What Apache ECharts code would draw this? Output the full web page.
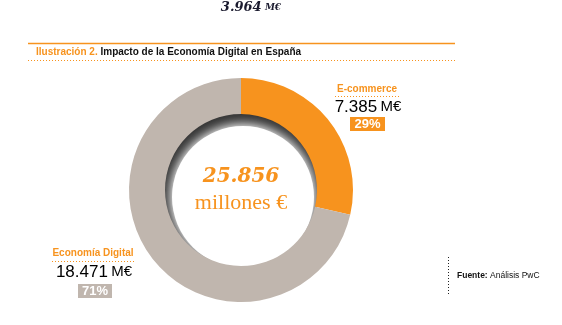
<!DOCTYPE html>
<html><head><meta charset="utf-8">
<script src="https://cdn.jsdelivr.net/npm/echarts@6/dist/echarts.min.js"></script>
<style>html,body{margin:0;padding:0;background:#fff}#c{width:562px;height:325px}</style>
</head><body><div id="c"></div>
<script>
const categories = ['E-commerce', 'Economía Digital'];
const values = [7385, 18471];
const sliceColors = ['#F7931E', '#C0B6AE'];
const totalLabel = '25.856';
const totalUnit = 'millones €';
const headerValue = '3.964';
const titlePrefix = 'Ilustración 2.';
const titleText = ' Impacto de la Economía Digital en España';
const sourceBold = 'Fuente:';
const sourceText = ' Análisis PwC';

const total = values.reduce((a, b) => a + b, 0);
const fmt = v => v.toLocaleString('de-DE');
const pct = v => Math.round(v / total * 100) + '%';

const ORANGE = '#F7931E';
const cx = 241, cy = 190;
const chart = echarts.init(document.getElementById('c'), null, {renderer: 'canvas'});

chart.setOption({
  animation: false,
  series: [{
    type: 'pie',
    center: [cx, cy],
    radius: [76, 112],
    startAngle: 90,
    clockwise: true,
    silent: true,
    label: {show: false},
    labelLine: {show: false},
    itemStyle: {borderWidth: 0},
    z: 5,
    data: categories.map((c, i) => ({name: c, value: values[i], itemStyle: {color: sliceColors[i]}}))
  }],
  graphic: [
    // inner shadow of the hole
    {type: 'circle', z: 1, shape: {cx: cx, cy: cy, r: 78}, style: {fill: '#333'}},
    {type: 'circle', z: 2, shape: {cx: cx + 2, cy: cy + 7, r: 71}, style: {fill: '#fff', shadowBlur: 14, shadowColor: '#fff'}},
    {type: 'circle', z: 3, shape: {cx: cx + 2, cy: cy + 7, r: 68}, style: {fill: '#fff', shadowBlur: 12, shadowColor: '#fff'}},
    // header
    {type: 'text', z: 10, style: {x: 251, y: 8, text: '{a|' + headerValue + '} {b|M€}', textAlign: 'center', textVerticalAlign: 'middle',
      rich: {a: {font: 'italic bold 13px "DejaVu Serif", serif', fill: '#1a1a2e'}, b: {font: 'italic bold 9px "DejaVu Serif", serif', fill: '#1a1a2e'}}}},
    // title rule
    {type: 'line', z: 10, shape: {x1: 28, y1: 43.5, x2: 455, y2: 43.5}, style: {stroke: ORANGE, lineWidth: 1.5}},
    {type: 'text', z: 10, style: {x: 36, y: 52, textVerticalAlign: 'middle', text: '{a|' + titlePrefix + '}{b|' + titleText + '}',
      rich: {a: {font: 'bold 10px "Liberation Sans", Arial', fill: ORANGE}, b: {font: 'bold 10px "Liberation Sans", Arial', fill: '#111'}}}},
    {type: 'line', z: 10, shape: {x1: 28, y1: 60.5, x2: 455, y2: 60.5}, style: {stroke: ORANGE, lineWidth: 1, lineDash: [1, 2]}},
    // center text
    {type: 'text', z: 10, style: {x: cx, y: 177, text: totalLabel, textAlign: 'center', textVerticalAlign: 'middle',
      font: 'italic bold 20px "DejaVu Serif", serif', fill: ORANGE}},
    {type: 'text', z: 10, style: {x: cx, y: 203, text: totalUnit, textAlign: 'center', textVerticalAlign: 'middle',
      font: '22px "Liberation Serif", serif', fill: ORANGE}},
    // E-commerce label
    {type: 'text', z: 10, style: {x: 367, y: 89, text: categories[0], textAlign: 'center', textVerticalAlign: 'middle',
      font: 'bold 10px "Liberation Sans", Arial', fill: ORANGE}},
    {type: 'line', z: 10, shape: {x1: 335, y1: 96.5, x2: 401, y2: 96.5}, style: {stroke: ORANGE, lineWidth: 1, lineDash: [1, 2]}},
    {type: 'text', z: 10, style: {x: 368, y: 107, text: '{a|' + fmt(values[0]) + '} {b|M€}', textAlign: 'center', textVerticalAlign: 'middle',
      rich: {a: {font: '17px "Liberation Sans", Arial', fill: '#000'}, b: {font: '15px "Liberation Sans", Arial', fill: '#000'}}}},
    {type: 'rect', z: 10, shape: {x: 350, y: 117, width: 35, height: 14}, style: {fill: sliceColors[0]}},
    {type: 'text', z: 11, style: {x: 367.5, y: 124.5, text: pct(values[0]), textAlign: 'center', textVerticalAlign: 'middle',
      font: 'bold 13px "Liberation Sans", Arial', fill: '#fff'}},
    // Economia Digital label
    {type: 'text', z: 10, style: {x: 93, y: 253, text: categories[1], textAlign: 'center', textVerticalAlign: 'middle',
      font: 'bold 10px "Liberation Sans", Arial', fill: ORANGE}},
    {type: 'line', z: 10, shape: {x1: 52, y1: 261.5, x2: 134, y2: 261.5}, style: {stroke: ORANGE, lineWidth: 1, lineDash: [1, 2]}},
    {type: 'text', z: 10, style: {x: 94, y: 272, text: '{a|' + fmt(values[1]) + '} {b|M€}', textAlign: 'center', textVerticalAlign: 'middle',
      rich: {a: {font: '17px "Liberation Sans", Arial', fill: '#000'}, b: {font: '15px "Liberation Sans", Arial', fill: '#000'}}}},
    {type: 'rect', z: 10, shape: {x: 78, y: 284, width: 34, height: 14}, style: {fill: sliceColors[1]}},
    {type: 'text', z: 11, style: {x: 95, y: 291.5, text: pct(values[1]), textAlign: 'center', textVerticalAlign: 'middle',
      font: 'bold 13px "Liberation Sans", Arial', fill: '#fff'}},
    // source
    {type: 'line', z: 10, shape: {x1: 448.5, y1: 257, x2: 448.5, y2: 295}, style: {stroke: '#222', lineWidth: 1, lineDash: [1, 2]}},
    {type: 'text', z: 10, style: {x: 457, y: 276, textVerticalAlign: 'middle', text: '{a|' + sourceBold + '}{b|' + sourceText + '}',
      rich: {a: {font: 'bold 8.5px "Liberation Sans", Arial', fill: '#111'}, b: {font: '8.5px "Liberation Sans", Arial', fill: '#111'}}}}
  ]
});
</script></body></html>
